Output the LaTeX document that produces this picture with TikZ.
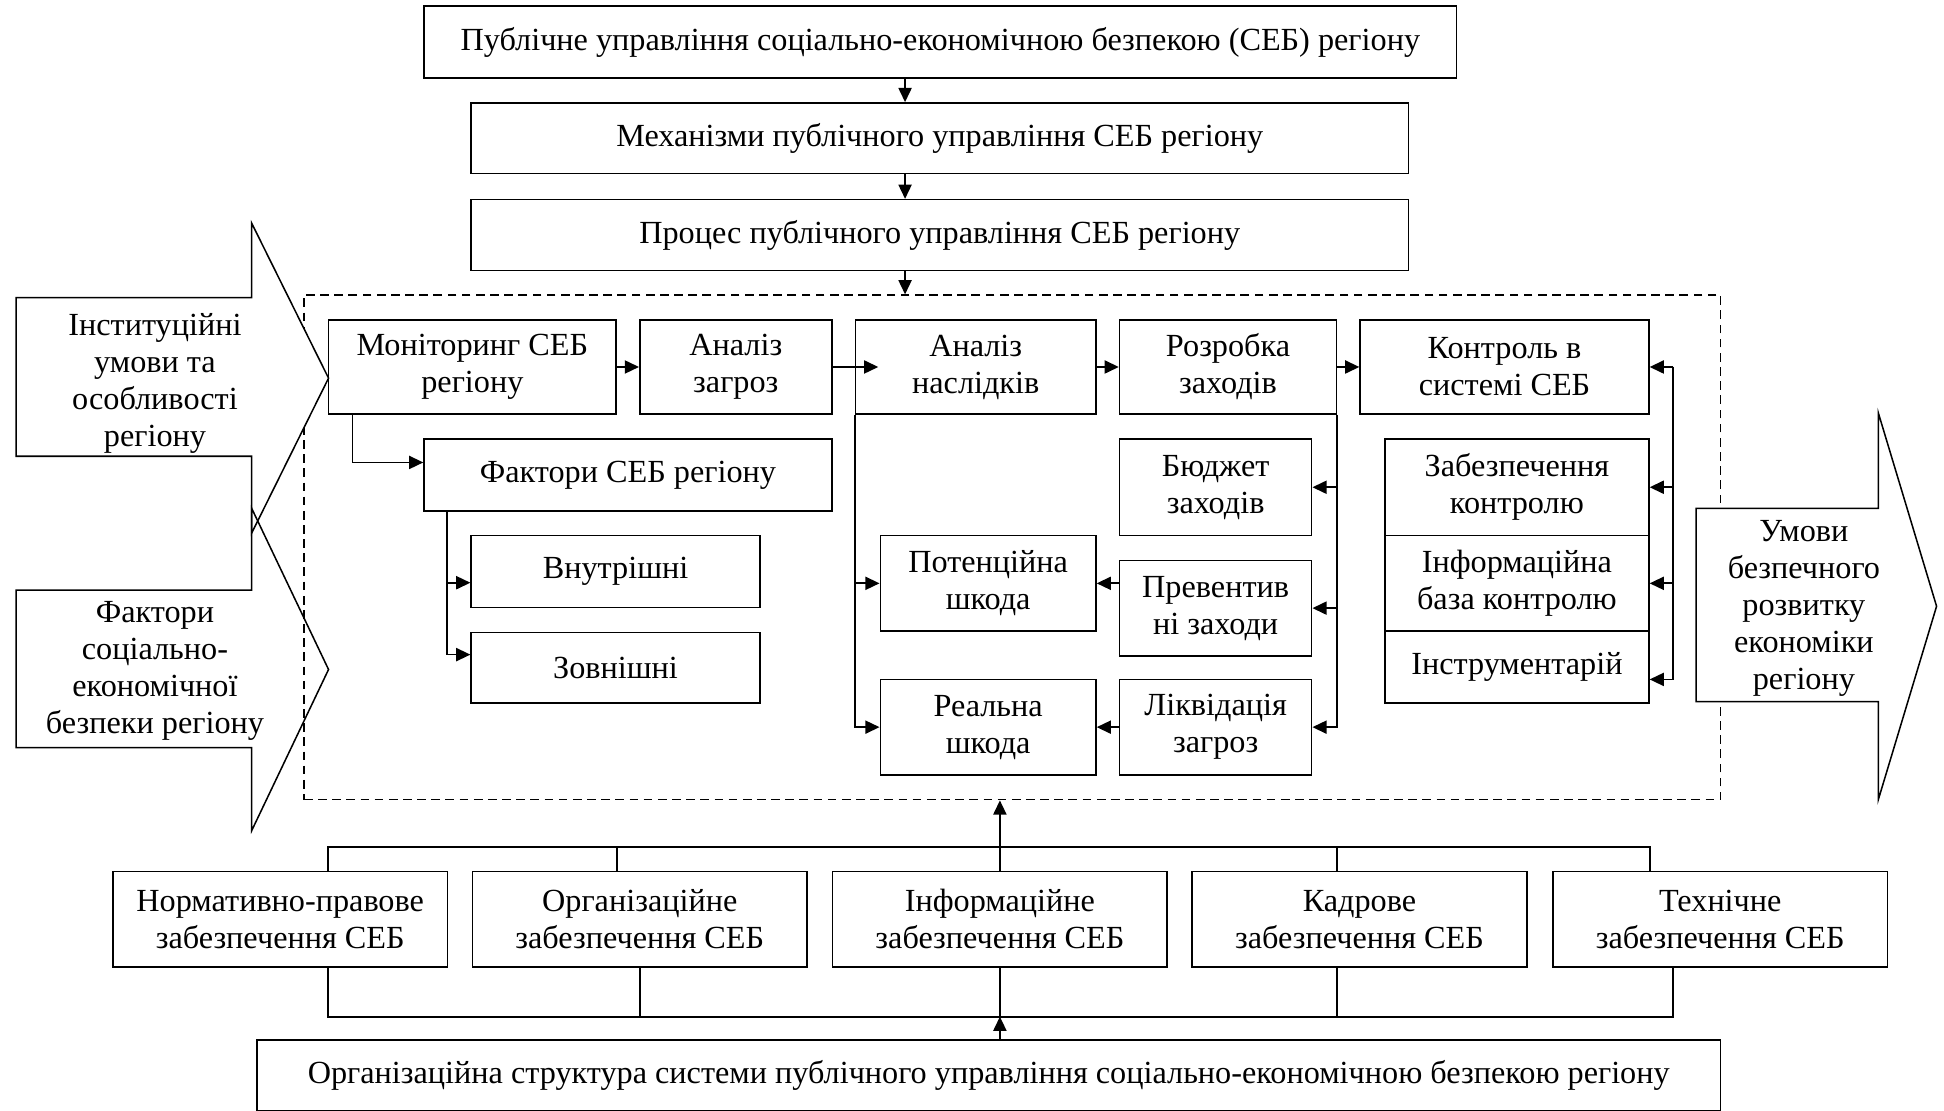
\documentclass[tikz,border=0pt]{standalone}
\usepackage{fontspec}
\setmainfont{Liberation Serif}
\usetikzlibrary{arrows.meta}
\begin{document}
\begin{tikzpicture}[x=0.02cm, y=-0.02cm, line join=miter,
  font=\fontsize{14.8}{17}\selectfont,
  blk/.style={draw, line width=0.7pt, align=center, inner sep=1pt},
  lbl/.style={align=center, inner sep=0pt},
  arr/.style={line width=0.8pt, -{Triangle[length=6.5pt,width=6pt]}},
  ln/.style={line width=0.8pt},
  shp/.style={line width=0.7pt}]
  \useasboundingbox (0,0) rectangle (1568,896);
  % dashed frame of the process
  \node[draw, line width=0.7pt, dash pattern=on 4pt off 2.5pt, minimum width=22.86cm, minimum height=8.14cm] (frame) at (816.5,441.5) {};
  % big side arrows
  \draw[shp, fill=white] (13,240) -- (203,240) -- (203,180) -- (265,305) -- (203,430) -- (203,368) -- (13,368) -- cycle;
  \draw[shp] (13,476) -- (203,476) -- (203,410) -- (265,540) -- (203,670) -- (203,603) -- (13,603) -- cycle;
  \draw[shp, fill=white] (1368,410) -- (1515,410) -- (1515,333) -- (1562,489) -- (1515,645) -- (1515,566) -- (1368,566) -- cycle;
  \node[lbl] (inst) at (125,309) {Інституційні\\умови та\\особливості\\регіону};
  \node[lbl] (fseb) at (125,541) {Фактори\\соціально-\\економічної\\безпеки регіону};
  \node[lbl] (cond) at (1455,491) {Умови\\безпечного\\розвитку\\економіки\\регіону};

  % top chain
  \node[blk, minimum width=16.66cm, minimum height=1.16cm] (pub) at (758.5,34) {Публічне управління соціально-економічною безпекою (СЕБ) регіону};
  \node[blk, minimum width=15.12cm, minimum height=1.14cm] (mech) at (758,111.5) {Механізми публічного управління СЕБ регіону};
  \node[blk, minimum width=15.12cm, minimum height=1.14cm] (proc) at (758,189.5) {Процес публічного управління СЕБ регіону};
  \coordinate (ax) at (730,0);
  \draw[arr] (pub.south -| ax) -- (mech.north -| ax);
  \draw[arr] (mech.south -| ax) -- (proc.north -| ax);
  \draw[arr] (proc.south -| ax) -- (frame.north -| ax);

  % process
  \node[blk, minimum width=4.64cm, minimum height=1.52cm] (mon) at (381,296) {Моніторинг СЕБ\\регіону};
  \node[blk, minimum width=3.10cm, minimum height=1.52cm] (thr) at (593.5,296) {Аналіз\\загроз};
  \node[blk, minimum width=3.88cm, minimum height=1.52cm] (cons) at (787,296) {Аналіз\\наслідків};
  \node[blk, minimum width=3.50cm, minimum height=1.52cm] (dev) at (990.5,296) {Розробка\\заходів};
  \node[blk, minimum width=4.66cm, minimum height=1.52cm] (ctl) at (1213.5,296) {Контроль в\\системі СЕБ};
  \node[blk, minimum width=6.58cm, minimum height=1.16cm] (fac) at (506.5,383) {Фактори СЕБ регіону};
  \node[blk, minimum width=4.66cm, minimum height=1.16cm] (inn) at (496.5,461) {Внутрішні};
  \node[blk, minimum width=4.66cm, minimum height=1.14cm] (ext) at (496.5,538.5) {Зовнішні};
  \node[blk, minimum width=3.48cm, minimum height=1.54cm] (pot) at (797,470.5) {Потенційна\\шкода};
  \node[blk, minimum width=3.48cm, minimum height=1.54cm] (real) at (797,586.5) {Реальна\\шкода};
  \node[blk, minimum width=3.10cm, minimum height=1.56cm] (bud) at (980.5,393) {Бюджет\\заходів};
  \node[blk, minimum width=3.10cm, minimum height=1.54cm] (prev) at (980.5,490.5) {Превентив\\ні заходи};
  \node[blk, minimum width=3.10cm, minimum height=1.54cm] (liq) at (980.5,586.5) {Ліквідація\\загроз};
  \node[blk, minimum width=4.26cm, minimum height=1.56cm] (cs1) at (1223.5,393) {Забезпечення\\контролю};
  \node[blk, minimum width=4.26cm, minimum height=1.54cm] (cs2) at (1223.5,470.5) {Інформаційна\\база контролю};
  \node[blk, minimum width=4.26cm, minimum height=1.16cm] (cs3) at (1223.5,538) {Інструментарій};

  \draw[arr] (mon) -- (thr);
  \draw[arr] (thr.east) -- ([xshift=0.38cm]cons.west);
  \draw[arr] (cons) -- (dev);
  \draw[arr] (dev) -- (ctl);
  \draw[arr] ([xshift=0.4cm]mon.south west) |- ([yshift=0.2cm]fac.west);
  \draw[arr] ([xshift=0.38cm]fac.south west) |- ([yshift=-0.18cm]inn.west);
  \draw[arr] ([xshift=0.38cm]fac.south west) |- ([yshift=0.21cm]ext.west);
  \draw[arr] (cons.south west) |- (pot.west);
  \draw[arr] (cons.south west) |- (real.west);
  \draw[arr] (dev.south east) |- (bud.east);
  \draw[arr] (dev.south east) |- (prev.east);
  \draw[arr] (dev.south east) |- (liq.east);
  \draw[arr] (prev.west |- pot.east) -- (pot.east);
  \draw[arr] (liq) -- (real);
  \coordinate (cb) at ([xshift=0.38cm]ctl.east);
  \draw[arr] (cb) -- (ctl.east);
  \draw[arr] (cb) |- (cs1.east);
  \draw[arr] (cb) |- (cs2.east);
  \draw[arr] (cb) |- ([yshift=-0.2cm]cs3.east);

  % support subsystems
  \node[blk, minimum width=5.40cm, minimum height=1.54cm] (b1) at (226,741.5) {Нормативно-правове\\забезпечення СЕБ};
  \node[blk, minimum width=5.40cm, minimum height=1.54cm] (b2) at (516,741.5) {Організаційне\\забезпечення СЕБ};
  \node[blk, minimum width=5.40cm, minimum height=1.54cm] (b3) at (806.5,741.5) {Інформаційне\\забезпечення СЕБ};
  \node[blk, minimum width=5.40cm, minimum height=1.54cm] (b4) at (1096.5,741.5) {Кадрове\\забезпечення СЕБ};
  \node[blk, minimum width=5.40cm, minimum height=1.54cm] (b5) at (1387.5,741.5) {Технічне\\забезпечення СЕБ};
  \node[blk, minimum width=23.62cm, minimum height=1.14cm] (org) at (797.5,867.5) {Організаційна структура системи публічного управління соціально-економічною безпекою регіону};
  \coordinate (ub) at (0,683);
  \coordinate (lb) at (0,820);
  \draw[ln] (b1.north -| mon.west) -- (ub -| mon.west) -- (ub -| ctl.east) -- (b5.north -| ctl.east);
  \draw[ln] (b2.north -| mon.east) -- (ub -| mon.east);
  \draw[ln] (b3.north) -- (ub -| b3.north);
  \draw[ln] (b4.north -| dev.east) -- (ub -| dev.east);
  \draw[arr] (ub -| b3.north) -- (frame.south -| b3.north);
  \draw[ln] (b1.south -| mon.west) -- (lb -| mon.west) -- (lb -| cb) -- (b5.south -| cb);
  \draw[ln] (b2.south) -- (lb -| b2.south);
  \draw[ln] (b3.south) -- (lb -| b3.south);
  \draw[ln] (b4.south -| dev.east) -- (lb -| dev.east);
  \draw[arr] (org.north -| b3.south) -- (lb -| b3.south);
\end{tikzpicture}
\end{document}
